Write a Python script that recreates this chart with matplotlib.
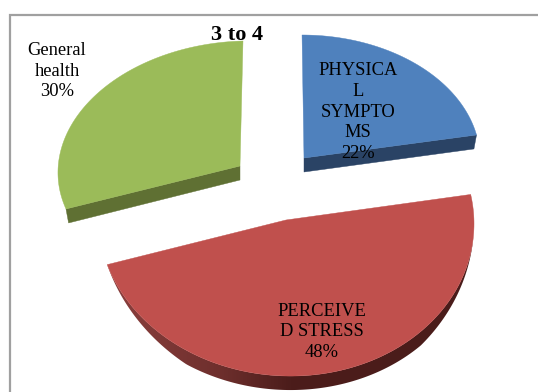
import numpy as np
import matplotlib
matplotlib.use("Agg")
import matplotlib.pyplot as plt
from matplotlib.colors import to_rgb
from matplotlib.patches import Polygon

title = "3 to 4"
categories = ["PHYSICA\nL\nSYMPTO\nMS", "PERCEIVE\nD STRESS", "General\nhealth"]
shares = [22, 48, 30]

top_colors = ["#4f81bd", "#c0504d", "#9bbb59"]
wall_colors = ["#2a4365", "#6e2e2c", "#5f7033"]

# pixel layout of each exploded slice: apex x, apex y, radius x, radius y, lean, tilt
slice_layout = [
    (304, 158, 176, 123, -0.016, 0.0),
    (286, 220, 188, 156, 0.0, 0.02),
    (240, 166, 182, 125, 0.024, -0.025),
]
label_pos = [(358, 112), (322, 332), (57, 71)]
depth = 14

# shading along the curved wall of the big slice, left to right
shade_x = [107, 220, 290, 475]
shade_colors = ["#8c403e", "#6e2f2d", "#4c1d1b", "#4a1c1a"]


def rim(layout, a):
    # points on the tilted rim, angles clockwise from 12 o'clock
    cx, cy, rx, ry, lean, tilt = layout
    t = np.radians(a)
    dx = rx * np.sin(t)
    dy = ry * np.cos(t)
    return np.column_stack([cx + dx + lean * dy, cy - dy + tilt * dx])


def draw_curved_wall(ax, layout, a0, a1):
    a = np.linspace(a0, a1, 240)
    edge = rim(layout, a)
    # wall tapers away where the rim turns towards the back
    d = depth * np.clip((a - a0 - 15) / 40, 0, 1) * np.clip((a1 - a) / 40, 0, 1)
    lower = edge + np.column_stack([np.zeros_like(d), d])
    wall = Polygon(np.vstack([edge, lower[::-1]]), closed=True, fc="none", ec="none", zorder=2)
    ax.add_patch(wall)

    xs = np.linspace(shade_x[0], shade_x[-1], 400)
    rgb = np.array([to_rgb(c) for c in shade_colors])
    grad = np.stack([np.interp(xs, shade_x, rgb[:, k]) for k in range(3)], axis=-1)[None, :, :]
    im = ax.imshow(grad, extent=(xs[0], xs[-1], 392, 150), aspect="auto", zorder=2, interpolation="bilinear")
    im.set_clip_path(wall)


def draw_slab(ax, layout, a0, a1, top, wall):
    apex = np.array(layout[:2], dtype=float)
    edge = rim(layout, np.linspace(a0, a1, 160))

    if a1 - a0 > 150:
        draw_curved_wall(ax, layout, a0, a1)
    else:
        # flat cut facing the viewer, leaning slightly inwards
        end = edge[0] if edge[0, 1] > edge[-1, 1] else edge[-1]
        end_low = end + [-0.015 * (end[0] - apex[0]), depth]
        face = np.array([apex, end, end_low, apex + [0, depth]])
        ax.add_patch(Polygon(face, closed=True, fc=wall, ec=wall, lw=0.3, zorder=2))

    ax.add_patch(Polygon(np.vstack([apex, edge]), closed=True, fc=top, ec=top, lw=0.3, zorder=3))


fig = plt.figure(figsize=(5.38, 3.92), dpi=100)
ax = fig.add_axes([0, 0, 1, 1])

# chart border, open on the right and bottom
ax.plot([9.5, 9.5, 538], [392, 15, 15], color="#a0a0a0", lw=1.6, solid_joinstyle="miter", zorder=1)

ends = np.cumsum(shares) / sum(shares) * 360
starts = np.concatenate([[0], ends[:-1]])
for i in range(len(shares)):
    draw_slab(ax, slice_layout[i], starts[i], ends[i], top_colors[i], wall_colors[i])

for name, share, (x, y) in zip(categories, shares, label_pos):
    ax.text(x, y, f"{name}\n{share}%", ha="center", va="center", family="Liberation Serif",
            fontsize=13.3, linespacing=1.3, color="black", zorder=5)

ax.text(237, 34.5, title, ha="center", va="center", family="Liberation Serif",
        fontsize=16, fontweight="bold", color="black", zorder=5)

ax.set_xlim(0, 538)
ax.set_ylim(392, 0)
ax.axis("off")

fig.savefig("out.png", dpi=100)
